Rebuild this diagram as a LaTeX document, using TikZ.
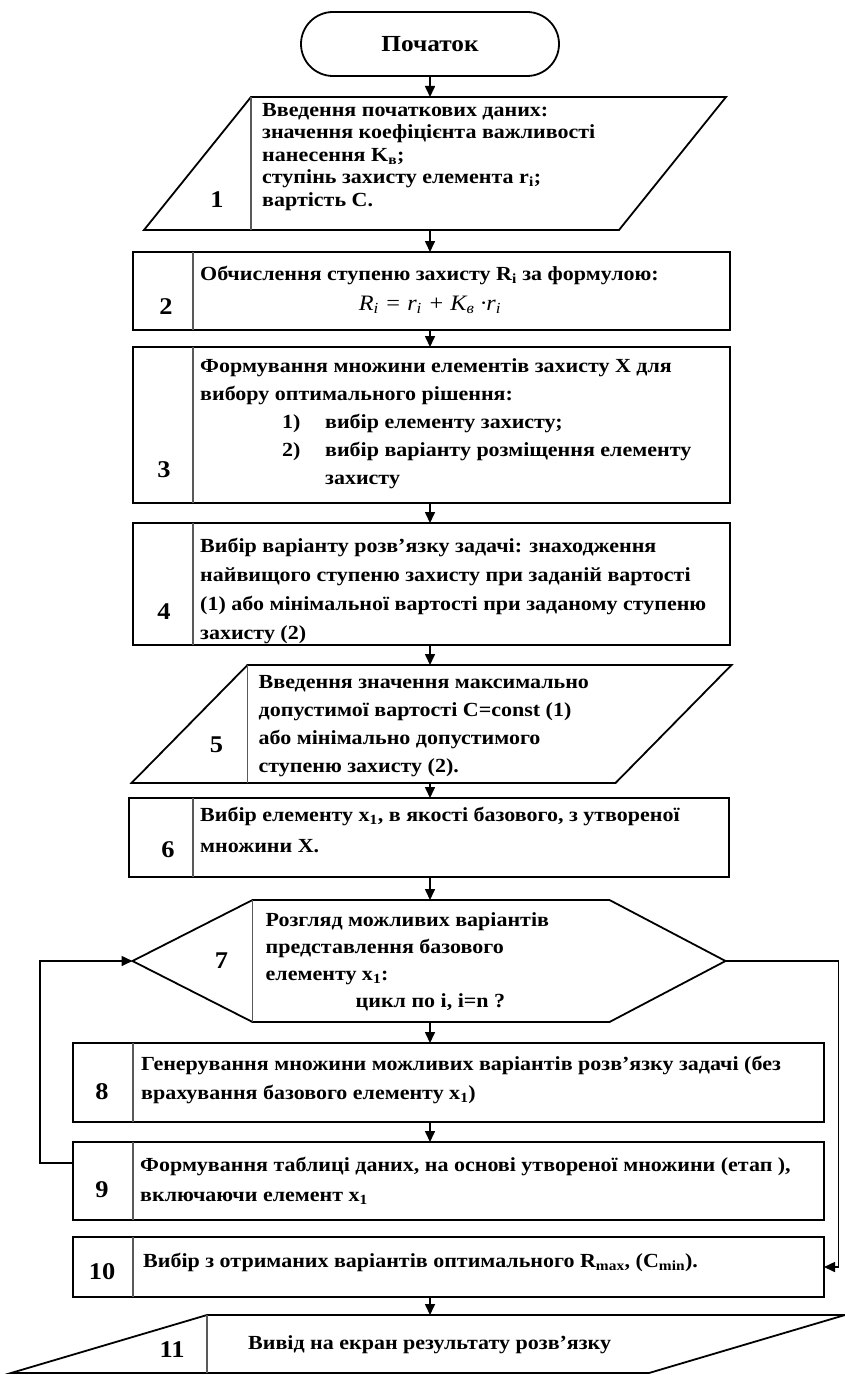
\documentclass[tikz,border=0pt]{standalone}
\usepackage{fontspec}
\setmainfont{Liberation Serif}[FakeStretch=1.1]
\usepackage{tikz}
\usetikzlibrary{arrows.meta, positioning}

\begin{document}
\begin{tikzpicture}[
  x=1pt, y=-1pt,
  font=\bfseries\fontsize{20}{22.5}\selectfont,
  bord/.style={draw=black, line width=1.8pt},
  term/.style={rectangle, rounded corners=32pt, bord, outer sep=0pt,
               minimum width=258pt, minimum height=64pt,
               font=\bfseries\fontsize{23}{26}\selectfont},
  box/.style={rectangle, bord, outer sep=0pt, inner sep=0pt,
              minimum width=597pt},
  wbox/.style={box, minimum width=751pt},
  frame/.style={rectangle, outer sep=0pt, inner sep=0pt},
  txt/.style={anchor=north west, inner sep=0pt, align=left,
              font=\bfseries\fontsize{20}{#1}\selectfont},
  txt/.default=28,
  num/.style={inner sep=0pt, font=\bfseries\fontsize{24}{26}\selectfont},
  sep/.style={draw=black!65, line width=1.5pt},
  arr/.style={-{Triangle[length=11pt, width=10pt]}, line width=1.6pt}
]
\useasboundingbox (0,0) rectangle (845,1375);

% ---- Start and input ----
\node[term] (start) at (430,44) {Початок};
\node[frame, minimum width=582pt, minimum height=133pt,
      below=21pt of start, xshift=5pt] (p1) {};
\draw[bord] (p1.south west) -- ([xshift=-107pt]p1.south east)
  -- (p1.north east) -- ([xshift=107pt]p1.north west) -- cycle;
\draw[sep] ([xshift=107pt]p1.north west) -- ([xshift=107pt]p1.south west);
\node[txt=22.5] (t1) at ([xshift=118pt, yshift=-6pt]p1.north west)
  {Введення початкових даних:\\значення коефіцієнта важливості\\
   нанесення K\textsubscript{в};\\ступінь захисту елемента r\textsubscript{i};\\
   вартість C.};
\node[num] (n1) at ([xshift=73pt, yshift=30pt]p1.south west) {1};

% ---- Steps 2 to 4 ----
\node[box, minimum height=78pt, below=22pt of p1, xshift=-3.5pt] (b2) {};
\draw[sep] ([xshift=60pt]b2.north west) -- ([xshift=60pt]b2.south west);
\node[txt] (t2) at ([xshift=67pt, yshift=-14pt]b2.north west)
  {Обчислення ступеню захисту R\textsubscript{i} за формулою:};
\node[inner sep=0pt, font=\itshape\fontsize{22}{24}\selectfont] (f2)
  at ([yshift=25pt]start |- b2.south)
  {R\textsubscript{i} = r\textsubscript{i} + K\textsubscript{в} ·r\textsubscript{i}};
\node[num] (n2) at ([xshift=33pt, yshift=23pt]b2.south west) {2};

\node[box, minimum height=156pt, below=17pt of b2] (b3) {};
\draw[sep] ([xshift=60pt]b3.north west) -- ([xshift=60pt]b3.south west);
\node[txt] (t3) at ([xshift=67pt, yshift=-11pt]b3.north west)
  {Формування множини елементів захисту X для\\
   вибору оптимального рішення:\\
   \hspace*{82pt}\makebox[43pt][l]{1)}вибір елементу захисту;\\
   \hspace*{82pt}\makebox[43pt][l]{2)}вибір варіанту розміщення елементу\\
   \hspace*{125pt}захисту};
\node[num] (n3) at ([xshift=31pt, yshift=33pt]b3.south west) {3};

\node[box, minimum height=122pt, below=20pt of b3] (b4) {};
\draw[sep] ([xshift=60pt]b4.north west) -- ([xshift=60pt]b4.south west);
\node[txt=29] (t4) at ([xshift=67pt, yshift=-15pt]b4.north west)
  {Вибір варіанту розв'язку задачі: знаходження\\
   найвищого ступеню захисту при заданій вартості\\
   (1) або мінімальної вартості при заданому ступеню\\
   захисту (2)};
\node[num] (n4) at ([xshift=31pt, yshift=33pt]b4.south west) {4};

% ---- Limit input and base element ----
\node[frame, minimum width=600pt, minimum height=118pt, below=20pt of b4] (p5) {};
\draw[bord] (p5.south west) -- ([xshift=-116pt]p5.south east)
  -- (p5.north east) -- ([xshift=116pt]p5.north west) -- cycle;
\draw[sep] ([xshift=116pt]p5.north west) -- ([xshift=116pt]p5.south west);
\node[txt] (t5) at ([xshift=127pt, yshift=-10pt]p5.north west)
  {Введення значення максимально\\допустимої вартості C=const (1)\\
   або мінімально допустимого\\ступеню захисту (2).};
\node[num] (n5) at ([xshift=85pt, yshift=38pt]p5.south west) {5};

\node[box, minimum width=600pt, minimum height=79pt,
      below=15pt of p5, xshift=-2.5pt] (b6) {};
\draw[sep] ([xshift=64pt]b6.north west) -- ([xshift=64pt]b6.south west);
\node[txt=31] (t6) at ([xshift=71pt, yshift=-9pt]b6.north west)
  {Вибір елементу x\textsubscript{1}, в якості базового, з утвореної\\множини X.};
\node[num] (n6) at ([xshift=39pt, yshift=27pt]b6.south west) {6};

% ---- Loop over variants ----
\node[frame, minimum width=593pt, minimum height=122pt, below=23pt of b6] (h7) {};
\draw[bord] (h7.west) -- ([xshift=120pt]h7.north west)
  -- ([xshift=-116pt]h7.north east) -- (h7.east)
  -- ([xshift=-116pt]h7.south east) -- ([xshift=120pt]h7.south west) -- cycle;
\draw[sep] ([xshift=120pt]h7.north west) -- ([xshift=120pt]h7.south west);
\node[txt=27] (t7) at ([xshift=133pt, yshift=-12pt]h7.north west)
  {Розгляд можливих варіантів\\представлення базового\\
   елементу x\textsubscript{1}:\\\hspace*{90pt}цикл по i, i=n ?};
\node[num] (n7) at ([xshift=89pt]h7.west) {7};

\node[wbox, minimum height=79pt, below=21pt of h7, xshift=19.5pt] (b8) {};
\draw[sep] ([xshift=60pt]b8.north west) -- ([xshift=60pt]b8.south west);
\node[txt=29] (t8) at ([xshift=68pt, yshift=-13pt]b8.north west)
  {Генерування множини можливих варіантів розв'язку задачі (без\\
   врахування базового елементу x\textsubscript{1})};
\node[num] (n8) at ([xshift=29pt, yshift=30pt]b8.south west) {8};

\node[wbox, minimum height=78pt, below=20pt of b8] (b9) {};
\draw[sep] ([xshift=60pt]b9.north west) -- ([xshift=60pt]b9.south west);
\node[txt=30] (t9) at ([xshift=67pt, yshift=-15pt]b9.north west)
  {Формування таблиці даних, на основі утвореної множини (етап ),\\
   включаючи елемент x\textsubscript{1}};
\node[num] (n9) at ([xshift=29pt, yshift=30pt]b9.south west) {9};

% ---- Result ----
\node[wbox, minimum height=60pt, below=17pt of b9] (b10) {};
\draw[sep] ([xshift=60pt]b10.north west) -- ([xshift=60pt]b10.south west);
\node[txt] (t10) at ([xshift=70pt, yshift=-16pt]b10.north west)
  {Вибір з отриманих варіантів оптимального R\textsubscript{max}, (C\textsubscript{min}).};
\node[num] (n10) at ([xshift=29pt, yshift=25pt]b10.south west) {10};

\node[frame, minimum width=834pt, minimum height=58pt,
      below=18pt of b10, xshift=-20.5pt] (p11) {};
\draw[bord] (p11.south west) -- ([xshift=-196pt]p11.south east)
  -- (p11.north east) -- ([xshift=196pt]p11.north west) -- cycle;
\draw[sep] ([xshift=196pt]p11.north west) -- ([xshift=196pt]p11.south west);
\node[txt] (t11) at ([xshift=237pt, yshift=-20pt]p11.north west)
  {Вивід на екран результату розв'язку};
\node[num] (n11) at ([xshift=161pt, yshift=23pt]p11.south west) {11};

% ---- Flow arrows ----
\draw[arr] (start) -- (start |- p1.north);
\draw[arr] (start |- p1.south) -- (start |- b2.north);
\draw[arr] (start |- b2.south) -- (start |- b3.north);
\draw[arr] (start |- b3.south) -- (start |- b4.north);
\draw[arr] (start |- b4.south) -- (start |- p5.north);
\draw[arr] (start |- p5.south) -- (start |- b6.north);
\draw[arr] (start |- b6.south) -- (start |- h7.north);
\draw[arr] (start |- h7.south) -- (start |- b8.north);
\draw[arr] (start |- b8.south) -- (start |- b9.north);
\draw[arr] (start |- b10.south) -- (start |- p11.north);

% back to the loop head, and loop exit
\draw[arr] ([yshift=-21pt]b9.north west) -- ++(-33pt,0) |- (h7.west);
\draw[arr] (h7.east) -- ++(113pt,0) |- (b10.east);

\end{tikzpicture}
\end{document}
